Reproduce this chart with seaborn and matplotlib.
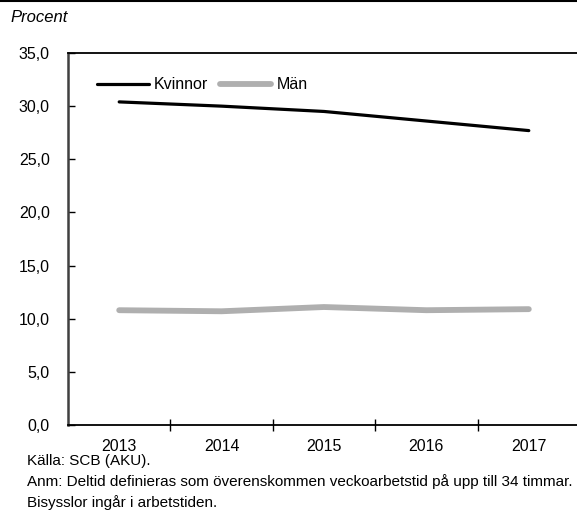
import numpy as np
import matplotlib
matplotlib.use("Agg")
import matplotlib.pyplot as plt
import pandas as pd
import seaborn as sns

# data
years = [2013, 2014, 2015, 2016, 2017]
kvinnor = [30.4, 30.0, 29.5, 28.6, 27.7]
man = [10.8, 10.7, 11.1, 10.8, 10.9]
yticks = [0, 5, 10, 15, 20, 25, 30, 35]

sns.set_style("white")
plt.rcParams['font.family'] = ['Liberation Sans', 'DejaVu Sans']
plt.rcParams['font.size'] = 11
plt.rcParams['text.color'] = 'black'
plt.rcParams['xtick.color'] = 'black'
plt.rcParams['ytick.color'] = 'black'

df = pd.DataFrame({
    'year': years * 2,
    'value': kvinnor + man,
    'serie': ['Kvinnor'] * len(years) + ['Män'] * len(years),
})

fig = plt.figure(figsize=(5.77, 5.27), dpi=100)
ax = fig.add_axes([68 / 577, 102 / 527, 512 / 577, 372 / 527])

sns.lineplot(data=df, x='year', y='value', hue='serie', size='serie',
             palette={'Kvinnor': 'black', 'Män': '#afafaf'},
             sizes={'Kvinnor': 2.3, 'Män': 4.2}, ax=ax, legend=True)
for ln in ax.lines:
    ln.set_solid_capstyle('round')

ax.set_xlim(years[0] - 0.5, years[-1] + 0.5)
ax.set_ylim(0, 35)
ax.set_xlabel('')
ax.set_ylabel('')

ax.set_xticks(years)
ax.set_xticklabels([str(y) for y in years])
ax.set_xticks([y + 0.5 for y in years[:-1]], minor=True)
ax.tick_params(axis='x', which='major', length=0, pad=10, labelsize=11.5)
ax.tick_params(axis='x', which='minor', direction='inout', length=9, width=1, color='black', bottom=True)

ax.set_yticks(yticks)
ax.set_yticklabels(['{:.1f}'.format(v).replace('.', ',') for v in yticks])
ax.tick_params(axis='y', direction='in', length=5, width=1, color='black', left=True, pad=13, labelsize=11.5)

for s in ['top', 'bottom']:
    ax.spines[s].set_color('black')
    ax.spines[s].set_linewidth(1.3)
ax.spines['left'].set_color('#404040')
ax.spines['left'].set_linewidth(1.8)
ax.spines['right'].set_visible(False)

handles, labels = ax.get_legend_handles_labels()
ax.legend(handles=handles, labels=labels, ncol=2, frameon=False,
          loc='center left', bbox_to_anchor=(0.045, 0.914),
          handlelength=3.2, handletextpad=0.3, columnspacing=0.8,
          fontsize=11.5, borderaxespad=0)

# top rule and texts
fig.add_artist(plt.Line2D([0, 1], [0.998, 0.998], color='black', linewidth=1.5,
                          transform=fig.transFigure))
fig.text(10 / 577, 1 - 18 / 527, 'Procent', style='italic',
         fontsize=12, va='center', ha='left')

notes = ['Källa: SCB (AKU).',
         'Anm: Deltid definieras som överenskommen veckoarbetstid på upp till 34 timmar.',
         'Bisysslor ingår i arbetstiden.']
for i, t in enumerate(notes):
    fig.text(27 / 577, 1 - (461 + 21 * i) / 527, t, fontsize=11, va='center', ha='left')

fig.savefig('out.png', dpi=100)
